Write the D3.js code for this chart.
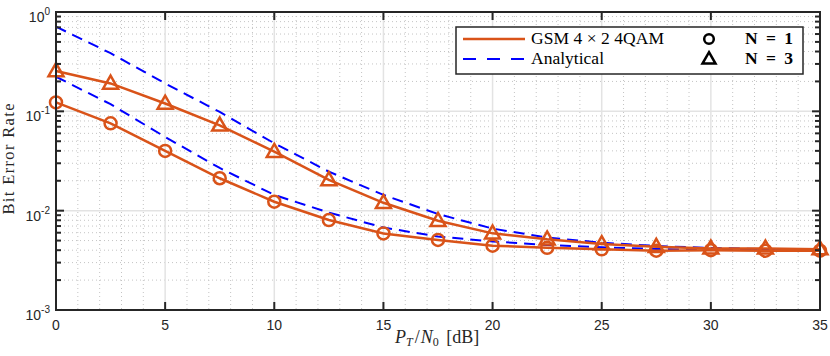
<!DOCTYPE html>
<html>
<head>
<meta charset="utf-8">
<script src="https://cdn.jsdelivr.net/npm/d3@7"></script>
<style>
  body { margin: 0; background: #fff; }
  svg { display: block; }
</style>
</head>
<body>
<div id="chart"></div>
<script>
let width = 830, height = 356;

// data
const snr = [0, 2.5, 5, 7.5, 10, 12.5, 15, 17.5, 20, 22.5, 25, 27.5, 30, 32.5, 35];
const simN1 = [0.123, 0.0758, 0.0399, 0.0212, 0.0123, 0.00805, 0.0059, 0.00507, 0.00444, 0.00423, 0.00408, 0.00395, 0.0040, 0.00395, 0.00395];
const simN3 = [0.255, 0.191, 0.120, 0.0722, 0.0392, 0.0204, 0.0120, 0.00792, 0.00591, 0.00515, 0.00462, 0.00434, 0.00417, 0.00417, 0.0041];
const anaN1 = [0.223, 0.118, 0.0552, 0.0269, 0.0144, 0.00957, 0.00676, 0.00549, 0.0049, 0.00451, 0.00428, 0.00411, 0.00402, 0.00402, 0.00402];
const anaN3 = [0.711, 0.385, 0.191, 0.0985, 0.0477, 0.0247, 0.0144, 0.00925, 0.0066, 0.00537, 0.00476, 0.00441, 0.00421, 0.00411, 0.00404];
const xTicks = [0, 5, 10, 15, 20, 25, 30, 35];
const yTicks = [1e-3, 1e-2, 1e-1, 1];
const yTickExp = ['-3', '-2', '-1', '0'];

const orange = '#D95319', blue = '#0000FF', axisCol = '#262626';
const pL = 56, pR = 820, pT = 12, pB = 310;
const serif = '"Liberation Serif", "DejaVu Serif", serif';

const svg = d3.select('#chart').append('svg')
  .attr('width', width)
  .attr('height', height);

const x = d3.scaleLinear().domain([0, 35]).range([pL, pR]);
const y = d3.scaleLog().domain([1e-3, 1]).range([pB, pT]);

// minor grid
const xMinor = d3.range(0, 36).filter(v => v % 5 !== 0);
const yMinor = [];
[1e-3, 1e-2, 1e-1].forEach(d => { for (let k = 2; k <= 9; k++) yMinor.push(d * k); });

const grid = svg.append('g');
grid.selectAll('.xmin').data(xMinor).join('line')
  .attr('x1', d => x(d)).attr('x2', d => x(d))
  .attr('y1', pT).attr('y2', pB)
  .attr('stroke', '#c4c4c4').attr('stroke-width', 1)
  .attr('stroke-dasharray', '1,3');
grid.selectAll('.ymin').data(yMinor).join('line')
  .attr('x1', pL).attr('x2', pR)
  .attr('y1', d => y(d)).attr('y2', d => y(d))
  .attr('stroke', '#c4c4c4').attr('stroke-width', 1)
  .attr('stroke-dasharray', '1,3');
grid.selectAll('.xmaj').data(xTicks).join('line')
  .attr('x1', d => x(d)).attr('x2', d => x(d))
  .attr('y1', pT).attr('y2', pB)
  .attr('stroke', '#e3e3e3').attr('stroke-width', 1.5);
grid.selectAll('.ymaj').data(yTicks).join('line')
  .attr('x1', pL).attr('x2', pR)
  .attr('y1', d => y(d)).attr('y2', d => y(d))
  .attr('stroke', '#e3e3e3').attr('stroke-width', 1.5);

// series
const line = d3.line().x((d, i) => x(snr[i])).y(d => y(d));
const plot = svg.append('g');

[anaN1, anaN3].forEach(s => {
  plot.append('path').datum(s)
    .attr('d', line)
    .attr('fill', 'none')
    .attr('stroke', blue).attr('stroke-width', 2)
    .attr('stroke-dasharray', '11,7');
});

[simN1, simN3].forEach(s => {
  plot.append('path').datum(s)
    .attr('d', line)
    .attr('fill', 'none')
    .attr('stroke', orange).attr('stroke-width', 2.5);
});

const tri = (cx, cy, s) => {
  const h = s * 0.87;
  return `M${cx},${cy - h * 0.6}L${cx + s / 2},${cy + h * 0.4}L${cx - s / 2},${cy + h * 0.4}Z`;
};

plot.selectAll('.circ').data(simN1).join('circle')
  .attr('cx', (d, i) => x(snr[i]))
  .attr('cy', d => y(d))
  .attr('r', 6)
  .attr('fill', 'none')
  .attr('stroke', orange).attr('stroke-width', 2.5);

plot.selectAll('.tri').data(simN3).join('path')
  .attr('d', (d, i) => tri(x(snr[i]), y(d), 15))
  .attr('fill', 'none')
  .attr('stroke', orange).attr('stroke-width', 2.5)
  .attr('stroke-linejoin', 'miter');

// axes box and ticks
const ax = svg.append('g').attr('stroke', axisCol);
ax.append('rect')
  .attr('x', pL).attr('y', pT)
  .attr('width', pR - pL).attr('height', pB - pT)
  .attr('fill', 'none').attr('stroke-width', 2);
xTicks.forEach(v => {
  ax.append('line').attr('x1', x(v)).attr('x2', x(v)).attr('y1', pB).attr('y2', pB - 8).attr('stroke-width', 2);
  ax.append('line').attr('x1', x(v)).attr('x2', x(v)).attr('y1', pT).attr('y2', pT + 8).attr('stroke-width', 2);
});
yTicks.forEach(v => {
  ax.append('line').attr('x1', pL).attr('x2', pL + 8).attr('y1', y(v)).attr('y2', y(v)).attr('stroke-width', 2);
  ax.append('line').attr('x1', pR).attr('x2', pR - 8).attr('y1', y(v)).attr('y2', y(v)).attr('stroke-width', 2);
});
yMinor.forEach(v => {
  ax.append('line').attr('x1', pL).attr('x2', pL + 5).attr('y1', y(v)).attr('y2', y(v)).attr('stroke-width', 2);
  ax.append('line').attr('x1', pR).attr('x2', pR - 5).attr('y1', y(v)).attr('y2', y(v)).attr('stroke-width', 2);
});

// tick labels
const tl = svg.append('g')
  .attr('font-family', '"Liberation Sans", Arial, sans-serif')
  .attr('fill', axisCol);
tl.selectAll('.xl').data(xTicks).join('text')
  .attr('x', d => x(d)).attr('y', pB + 20)
  .attr('text-anchor', 'middle')
  .attr('font-size', 14)
  .text(d => d);
yTicks.forEach((v, i) => {
  const t = tl.append('text')
    .attr('x', pL - 6).attr('y', y(v) + 10)
    .attr('text-anchor', 'end')
    .attr('font-size', 14);
  t.append('tspan').text('10');
  t.append('tspan').attr('font-size', 10).attr('dy', -7).text(yTickExp[i]);
});

// axis titles
svg.append('text')
  .attr('transform', `translate(14,159) rotate(-90)`)
  .attr('text-anchor', 'middle')
  .attr('font-family', serif)
  .attr('font-size', 16.5)
  .attr('textLength', 111).attr('lengthAdjust', 'spacing')
  .attr('fill', axisCol)
  .text('Bit Error Rate');

const xl = svg.append('text')
  .attr('x', 395).attr('y', 343)
  .attr('font-family', serif)
  .attr('font-size', 18)
  .attr('fill', axisCol);
xl.append('tspan').attr('font-style', 'italic').text('P');
xl.append('tspan').attr('font-style', 'italic').attr('font-size', 12).attr('dy', 3).text('T');
xl.append('tspan').attr('dy', -3).attr('dx', 2).text('/');
xl.append('tspan').attr('font-style', 'italic').attr('dx', 1).text('N');
xl.append('tspan').attr('font-size', 12).attr('dy', 3).text('0');
xl.append('tspan').attr('dy', -3).attr('dx', 3).text(' [dB]');

// legend
const lg = svg.append('g').attr('font-family', serif).attr('font-size', 17.5).attr('fill', '#000');
lg.append('rect')
  .attr('x', 456).attr('y', 27)
  .attr('width', 347).attr('height', 47)
  .attr('fill', '#fff').attr('stroke', axisCol).attr('stroke-width', 1.5);
lg.append('line').attr('x1', 463).attr('x2', 525).attr('y1', 39).attr('y2', 39)
  .attr('stroke', orange).attr('stroke-width', 2.5);
lg.append('line').attr('x1', 463).attr('x2', 525).attr('y1', 59).attr('y2', 59)
  .attr('stroke', blue).attr('stroke-width', 2).attr('stroke-dasharray', '13,11');
lg.append('text').attr('x', 531).attr('y', 44)
  .attr('textLength', 133).attr('lengthAdjust', 'spacing')
  .text('GSM 4 × 2 4QAM');
lg.append('text').attr('x', 531).attr('y', 64)
  .attr('textLength', 73).attr('lengthAdjust', 'spacing')
  .text('Analytical');
lg.append('circle').attr('cx', 709).attr('cy', 39).attr('r', 4.8)
  .attr('fill', 'none').attr('stroke', '#000').attr('stroke-width', 2.5);
lg.append('path').attr('d', tri(709, 59, 13))
  .attr('fill', 'none').attr('stroke', '#000').attr('stroke-width', 2.5);
lg.append('text').attr('x', 745).attr('y', 44)
  .attr('font-weight', 'bold').attr('word-spacing', 4)
  .text('N = 1');
lg.append('text').attr('x', 745).attr('y', 64)
  .attr('font-weight', 'bold').attr('word-spacing', 4)
  .text('N = 3');
</script>
</body>
</html>
